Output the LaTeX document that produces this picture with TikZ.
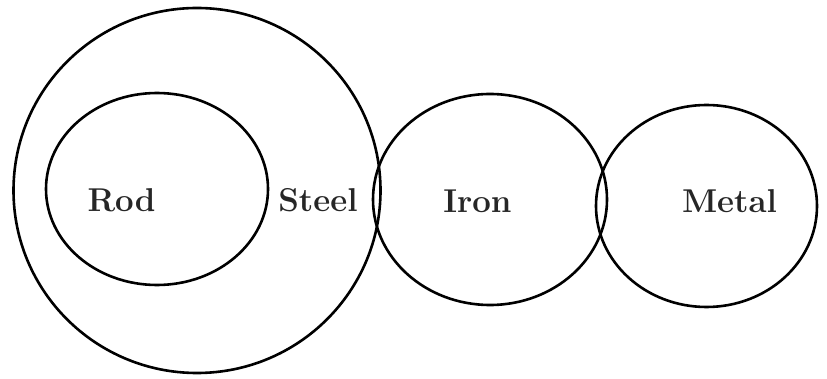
\documentclass[tikz,border=0pt]{standalone}
\usetikzlibrary{shapes.geometric}
\begin{document}
\begin{tikzpicture}[x=1pt,y=-1pt,
  setshape/.style={draw=black, line width=2.6pt, ellipse, inner sep=0pt},
  setlabel/.style={font=\fontsize{33}{40}\selectfont\bfseries, anchor=base, inner sep=0pt, text=black!85}]
\useasboundingbox (0,0) rectangle (827,379);
\node[setshape, minimum width=367pt, minimum height=365pt] (steelset) at (197,190.5) {};
\node[setshape, minimum width=222pt, minimum height=192pt] (rodset) at (157,189) {};
\node[setshape, minimum width=234pt, minimum height=211pt] (ironset) at (490,199.5) {};
\node[setshape, minimum width=221pt, minimum height=202pt] (metalset) at (706.5,206) {};
\node[setlabel] (rod) at (121.5,212) {Rod};
\node[setlabel] (steel) at (318,212) {Steel};
\node[setlabel] (iron) at (477.5,213) {Iron};
\node[setlabel] (metal) at (729.5,213) {Metal};
\end{tikzpicture}
\end{document}
